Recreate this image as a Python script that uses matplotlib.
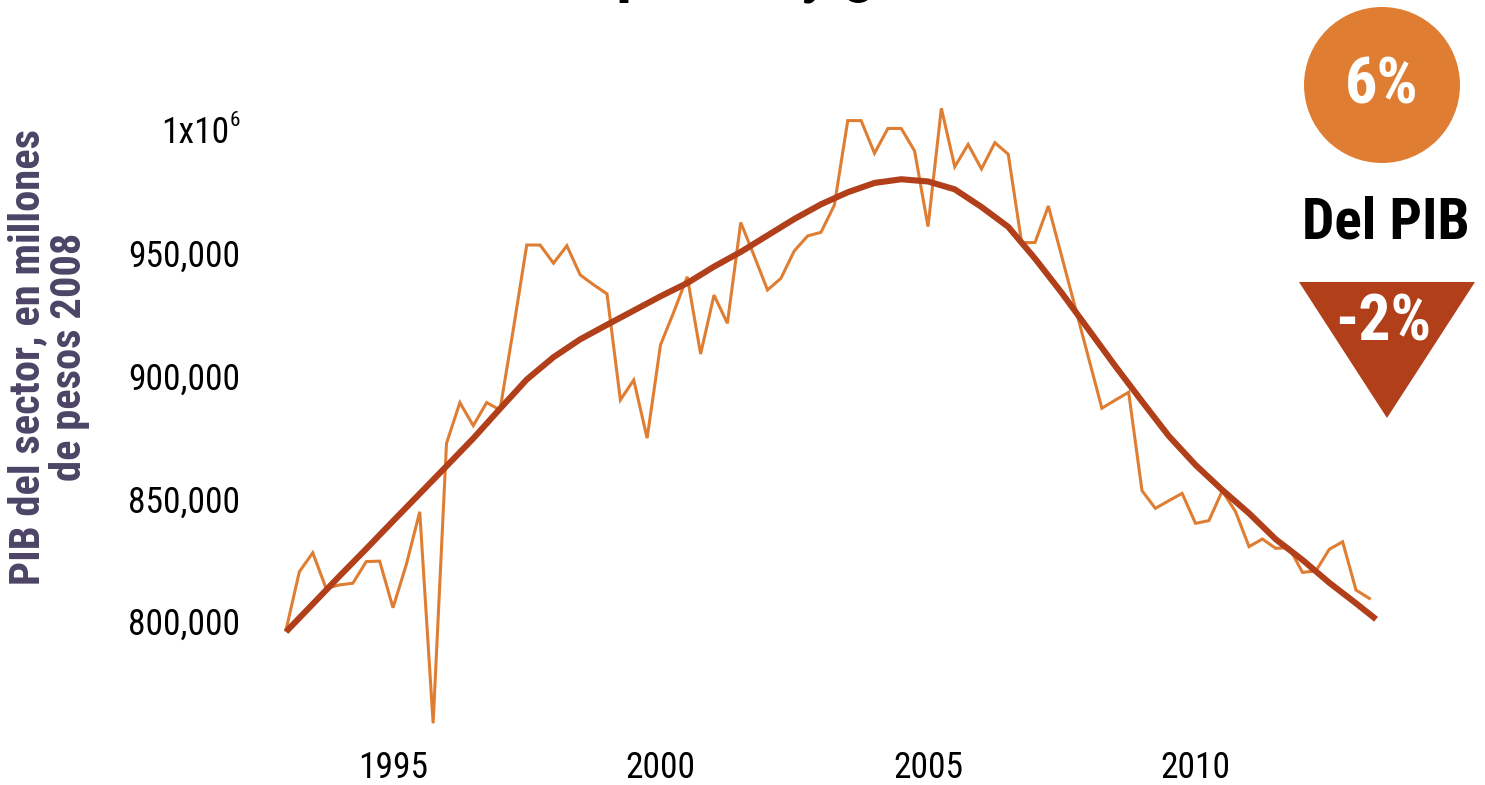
import numpy as np
import matplotlib
matplotlib.use("Agg")
import matplotlib.pyplot as plt
import matplotlib.font_manager as fm
from matplotlib.patches import Circle, Polygon

# ---------------- data ----------------
quarter_start = 1993.0
gdp_quarterly = [
    796300, 820100, 827800, 813300, 814700, 815400, 824200, 824400, 805400, 823100,
    844500, 758300, 872400, 889000, 879600, 889000, 886000, 919000, 953200, 953200,
    945800, 952900, 941000, 937000, 933300, 890100, 898200, 874500, 912500, 926000,
    940300, 908800, 932800, 921300, 962400, 948800, 934900, 939600, 950800, 956900,
    958400, 969500, 1003900, 1003900, 990600, 1000700, 1000700, 991500, 960700, 1008900,
    985100, 994200, 984200, 994900, 990200, 954200, 954200, 969100, 948500, 927900,
    907300, 886700, 890000, 893200, 853100, 845900, 849000, 852000, 839800, 840900,
    853000, 844500, 830300, 833400, 829600, 829900, 819800, 820400, 829200, 832300,
    812600, 809200,
]
trend_years = [1993.0, 1993.5, 1994.0, 1994.5, 1995.0, 1995.5, 1996.0, 1996.5, 1997.0, 1997.5,
               1998.0, 1998.5, 1999.0, 1999.5, 2000.0, 2000.5, 2001.0, 2001.5, 2002.0, 2002.5,
               2003.0, 2003.5, 2004.0, 2004.5, 2005.0, 2005.5, 2006.0, 2006.5, 2007.0, 2007.5,
               2008.0, 2008.5, 2009.0, 2009.5, 2010.0, 2010.5, 2011.0, 2011.5, 2012.0, 2012.5,
               2013.0, 2013.375]
trend_values = [795600, 806900, 818300, 829400, 840700, 851900, 863100, 874400, 886500, 898400,
                907500, 914800, 920700, 926500, 932300, 937700, 944400, 950400, 957100, 963800,
                969800, 974700, 978500, 980000, 979100, 975900, 968700, 960600, 947700, 933700,
                918800, 903900, 889500, 875400, 863600, 853400, 843900, 833300, 824900, 815600,
                807200, 800700]
x_ticks = [1995, 2000, 2005, 2010]
x_labels = ["1995", "2000", "2005", "2010"]
y_ticks = [800000, 850000, 900000, 950000, 1000000]
y_labels = ["800,000", "850,000", "900,000", "950,000", "1x10"]
y_top_exp = "6"
ylabel_lines = ["PIB del sector, en millones", "de pesos 2008"]
# title is cut off by the top edge in the reference; only descenders of "p ... y g" show
title_options = [
    ("Sector: impacto y ganancias", "Sector: im", "Sector: impacto "),
    ("Sector: impactos y ganancias", "Sector: im", "Sector: impactos "),
    ("Sector: importe total y ganancias", "Sector: im", "Sector: importe total "),
    ("Sector: importancia y ganancias", "Sector: im", "Sector: importancia "),
    ("Sector: importante y ganancias", "Sector: im", "Sector: importante "),
]
badge_top = "6%"
badge_mid = "Del PIB"
badge_bottom = "-2%"

ORANGE = '#DF7E33'
RUST = '#B13F1A'
PURPLE = '#4B4466'


# ---------------- font selection (prefer a condensed sans) ----------------
def _w(f):
    w = f.weight
    if isinstance(w, str):
        w = fm.weight_dict.get(w, 400)
    return int(w)


def pick_font(bold):
    prefs = ['Liberation Sans Narrow', 'Roboto Condensed', 'Open Sans Condensed',
             'Noto Sans', 'Noto Sans Condensed', 'Noto Sans SemiCondensed',
             'DejaVu Sans', 'Roboto', 'Open Sans']
    best = None
    for f in fm.fontManager.ttflist:
        nm = f.name
        path = f.fname
        low = path.lower()
        if 'italic' in low or 'oblique' in low or f.style != 'normal':
            continue
        if 'mono' in nm.lower() or 'serif' in nm.lower() or 'cjk' in nm.lower():
            continue
        if 'extracond' in low.replace('-', '') or 'extra' in str(f.stretch):
            continue
        cond = ('narrow' in low or 'condensed' in low or 'narrow' in nm.lower()
                or 'condensed' in nm.lower() or str(f.stretch) in ('condensed', 'semi-condensed'))
        if not cond:
            continue
        w = _w(f)
        if bold and not (650 <= w <= 800):
            continue
        if not bold and not (350 <= w <= 450):
            continue
        rank = prefs.index(nm) if nm in prefs else len(prefs)
        sub = 0 if 'semi' not in low else 1
        key = (rank, sub)
        if best is None or key < best[0]:
            best = (key, path)
    if best is None:
        return fm.FontProperties(family='DejaVu Sans', weight='bold' if bold else 'normal')
    return fm.FontProperties(fname=best[1])


FP_REG = pick_font(False)
FP_BOLD = pick_font(True)

W, H = 1485, 785
fig = plt.figure(figsize=(W / 100, H / 100), dpi=100)
renderer = fig.canvas.get_renderer()


def text_width(s, fp, size):
    t = fig.text(0, 0, s, fontproperties=fp, fontsize=size)
    w = t.get_window_extent(renderer).width
    t.remove()
    return w


def fit_size(s, fp, target_px):
    return 20 * target_px / text_width(s, fp, 20)


# axes placement (pixel based)
x0, x1 = 1992.5, 2014.0
y0, y1 = 750000, 1020000
left_px, right_px = 259.25, 1409.5
top_px, bottom_px = 81.1, 743.7
ax = fig.add_axes([left_px / W, 1 - bottom_px / H, (right_px - left_px) / W, (bottom_px - top_px) / H])

qt = quarter_start + 0.25 * np.arange(len(gdp_quarterly))
ax.plot(qt, gdp_quarterly, color=ORANGE, lw=2.2, solid_joinstyle='miter', zorder=2)
ax.plot(trend_years, trend_values, color=RUST, lw=4.4, solid_joinstyle='round',
        solid_capstyle='butt', zorder=3)

ax.set_xlim(x0, x1)
ax.set_ylim(y0, y1)

tick_size = fit_size("950,000", FP_REG, 112)
ax.set_xticks(x_ticks, labels=x_labels)
ax.set_yticks(y_ticks, labels=y_labels[:-1] + [""])
for lbl in ax.get_xticklabels() + ax.get_yticklabels():
    lbl.set_fontproperties(FP_REG)
    lbl.set_fontsize(tick_size)
ax.tick_params(axis='both', length=0, colors='black')
ax.tick_params(axis='y', pad=13.5)
ax.tick_params(axis='x', pad=4.5)
for s in ax.spines.values():
    s.set_visible(False)
ax.set_facecolor('none')

# overlay in figure pixel coordinates
ov = fig.add_axes([0, 0, 1, 1])
ov.set_xlim(0, W)
ov.set_ylim(H, 0)
ov.axis('off')

# top y tick label 1x10^6
ov.text(229, 133, y_labels[-1], ha='right', va='center', fontproperties=FP_REG,
        fontsize=tick_size, color='black')
ov.text(230, 121, y_top_exp, ha='left', va='center', fontproperties=FP_REG,
        fontsize=tick_size * 0.6, color='black')

# y label (two lines)
yl_size = fit_size(ylabel_lines[0], FP_BOLD, 455)
ov.text(28, 357, ylabel_lines[0], rotation=90, ha='center', va='center',
        fontproperties=FP_BOLD, fontsize=yl_size, color=PURPLE)
ov.text(70, 357, ylabel_lines[1], rotation=90, ha='center', va='center',
        fontproperties=FP_BOLD, fontsize=yl_size, color=PURPLE)

# badges
mid_size = fit_size(badge_mid, FP_BOLD, 168)
top_size = fit_size(badge_top, FP_BOLD, 74)
bot_size = fit_size(badge_bottom, FP_BOLD, 96)
ov.add_patch(Circle((1382, 85), 78, color=ORANGE, lw=0))
ov.text(1382, 86, badge_top, ha='center', va='center', color='white',
        fontproperties=FP_BOLD, fontsize=top_size)
ov.text(1386, 223, badge_mid, ha='center', va='center', color='black',
        fontproperties=FP_BOLD, fontsize=mid_size)
ov.add_patch(Polygon([(1299, 282), (1475, 282), (1387, 418)], closed=True, color=RUST, lw=0))
ov.text(1383, 323, badge_bottom, ha='center', va='center', color='white',
        fontproperties=FP_BOLD, fontsize=bot_size)

# title (cut off at the top edge: only descenders remain visible)
title_size = mid_size * 1.1
best = None
for full, to_p, to_y in title_options:
    g = text_width(to_y, FP_BOLD, title_size) - text_width(to_p, FP_BOLD, title_size)
    if best is None or abs(g - 172) < best[0]:
        best = (abs(g - 172), full, to_p)
_, title_text, title_to_p = best
pw = text_width(title_to_p, FP_BOLD, title_size)
fig.text((616 - pw) / W, 1 - 3 / H, title_text, fontproperties=FP_BOLD, fontsize=title_size,
         color='black', ha='left', va='bottom')

fig.savefig('out.png', dpi=100)
